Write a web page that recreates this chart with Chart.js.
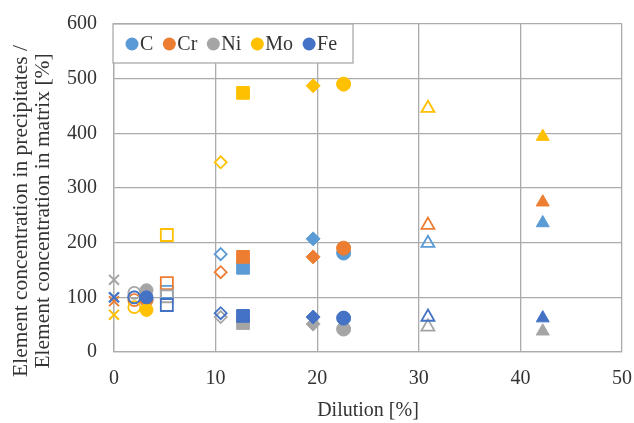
<!DOCTYPE html>
<html>
<head>
<meta charset="utf-8">
<script src="https://cdn.jsdelivr.net/npm/chart.js@4"></script>
<style>
  html, body { margin: 0; padding: 0; background: white; }
  #wrap { width: 634px; height: 423px; }
</style>
</head>
<body>
<div id="wrap"><canvas id="chart" width="634" height="423"></canvas></div>
<script>
// dilution of each sample (x) and the marker used for it
const dilution = [0, 2, 3.2, 5.2, 10.5, 12.7, 19.6, 22.6, 30.9, 42.2];
const markerStyle = ['crossRot', 'circle', 'circle', 'rect', 'rectRot', 'rect', 'rectRot', 'circle', 'triangle', 'triangle'];
const markerOpen = [false, true, false, true, true, false, false, false, true, false];
const markerSize = [7, 6, 6.5, 8.5, 6, 9, 7, 7, 7.5, 7.5];

// element ratio precipitate / matrix [%]
const C  = [100, 100, 95, 110, 179, 154, 207, 181, 199, 236];
const Cr = [93, 95, 95, 126, 146, 174, 174, 190, 232, 274];
const Ni = [132, 108, 113, 102, 64, 53, 51, 42, 46, 38];
const Mo = [68, 82, 77, 214, 347, 474, 487, 490, 446, 394];
const Fe = [100, 100, 100, 86, 71, 66, 64, 62, 64, 62];

const elements = ['C', 'Cr', 'Ni', 'Mo', 'Fe'];
const colors = ['#5B9BD5', '#ED7D31', '#A5A5A5', '#FFC000', '#4472C4'];
const drawOrder = [4, 3, 2, 1, 0]; // Fe ends up on top

const serif = "'Liberation Serif', 'Times New Roman', serif";
const textColor = '#333333';
const gridColor = '#ababab';

const makeSet = (label, values, i) => {
  const col = colors[i];
  return {
    label: label,
    data: values.map((v, j) => ({x: dilution[j], y: v})),
    pointStyle: markerStyle,
    pointRadius: markerSize,
    pointHoverRadius: markerSize,
    pointBackgroundColor: markerOpen.map((o, j) => (o || markerStyle[j] === 'crossRot') ? 'rgba(0,0,0,0)' : col),
    pointBorderColor: col,
    pointBorderWidth: markerStyle.map((s, j) => s === 'crossRot' ? 2 : (markerOpen[j] ? 1.8 : 1)),
    showLine: false,
    clip: false,
    order: drawOrder[i]
  };
};

const datasets = [C, Cr, Ni, Mo, Fe].map((vals, i) => makeSet(elements[i], vals, i));

// legend box inside the plot plus the two-line y title
const extras = {
  id: 'extras',
  afterDraw(chart) {
    const ctx = chart.ctx;
    const area = chart.chartArea;
    ctx.save();
    // legend
    ctx.fillStyle = 'white';
    ctx.fillRect(area.left - 1, area.top, 240, 39);
    ctx.strokeStyle = gridColor;
    ctx.lineWidth = 1.3;
    ctx.strokeRect(area.left - 1, area.top, 240, 39);
    ctx.font = '20px ' + serif;
    ctx.textBaseline = 'middle';
    ctx.textAlign = 'left';
    let x = area.left + 12;
    const y = area.top + 20;
    chart.data.datasets.forEach((ds, i) => {
      ctx.fillStyle = colors[i];
      ctx.beginPath();
      ctx.arc(x + 6, y, 6.5, 0, Math.PI * 2);
      ctx.fill();
      ctx.fillStyle = textColor;
      ctx.fillText(ds.label, x + 14, y + 1);
      x += 14 + ctx.measureText(ds.label).width + 10;
    });
    // y title
    ctx.font = '21.5px ' + serif;
    ctx.textBaseline = 'alphabetic';
    ctx.translate(0, 211);
    ctx.rotate(-Math.PI / 2);
    ctx.textAlign = 'center';
    ctx.fillStyle = textColor;
    ctx.fillText('Element concentration in precipitates /', 0, 27);
    ctx.fillText('Element concentration in matrix [%]', 0, 49);
    ctx.restore();
  }
};

new Chart(document.getElementById('chart').getContext('2d'), {
  type: 'scatter',
  data: { datasets: datasets },
  options: {
    responsive: false,
    animation: false,
    layout: { padding: { top: 24, right: 12, left: 0, bottom: 0 } },
    plugins: {
      legend: { display: false },
      tooltip: { enabled: false }
    },
    scales: {
      x: {
        type: 'linear',
        min: 0,
        max: 50,
        ticks: { stepSize: 10, color: textColor, font: { family: serif, size: 20 }, padding: 15 },
        grid: { color: gridColor, lineWidth: 1.3, drawTicks: false },
        border: { color: gridColor, width: 1.3 },
        title: { display: true, text: 'Dilution [%]', color: textColor, font: { family: serif, size: 20 }, padding: { top: 0, bottom: 0 } },
        afterFit(s) { s.height = 71; s.paddingLeft = 0; s.paddingRight = 0; }
      },
      y: {
        min: 0,
        max: 600,
        ticks: { stepSize: 100, color: textColor, font: { family: serif, size: 20 }, padding: 17 },
        grid: { color: gridColor, lineWidth: 1.3, drawTicks: false },
        border: { color: gridColor, width: 1.3 },
        afterFit(s) { s.width = 114; s.paddingTop = 0; s.paddingBottom = 0; }
      }
    }
  },
  plugins: [extras]
});
</script>
</body>
</html>
